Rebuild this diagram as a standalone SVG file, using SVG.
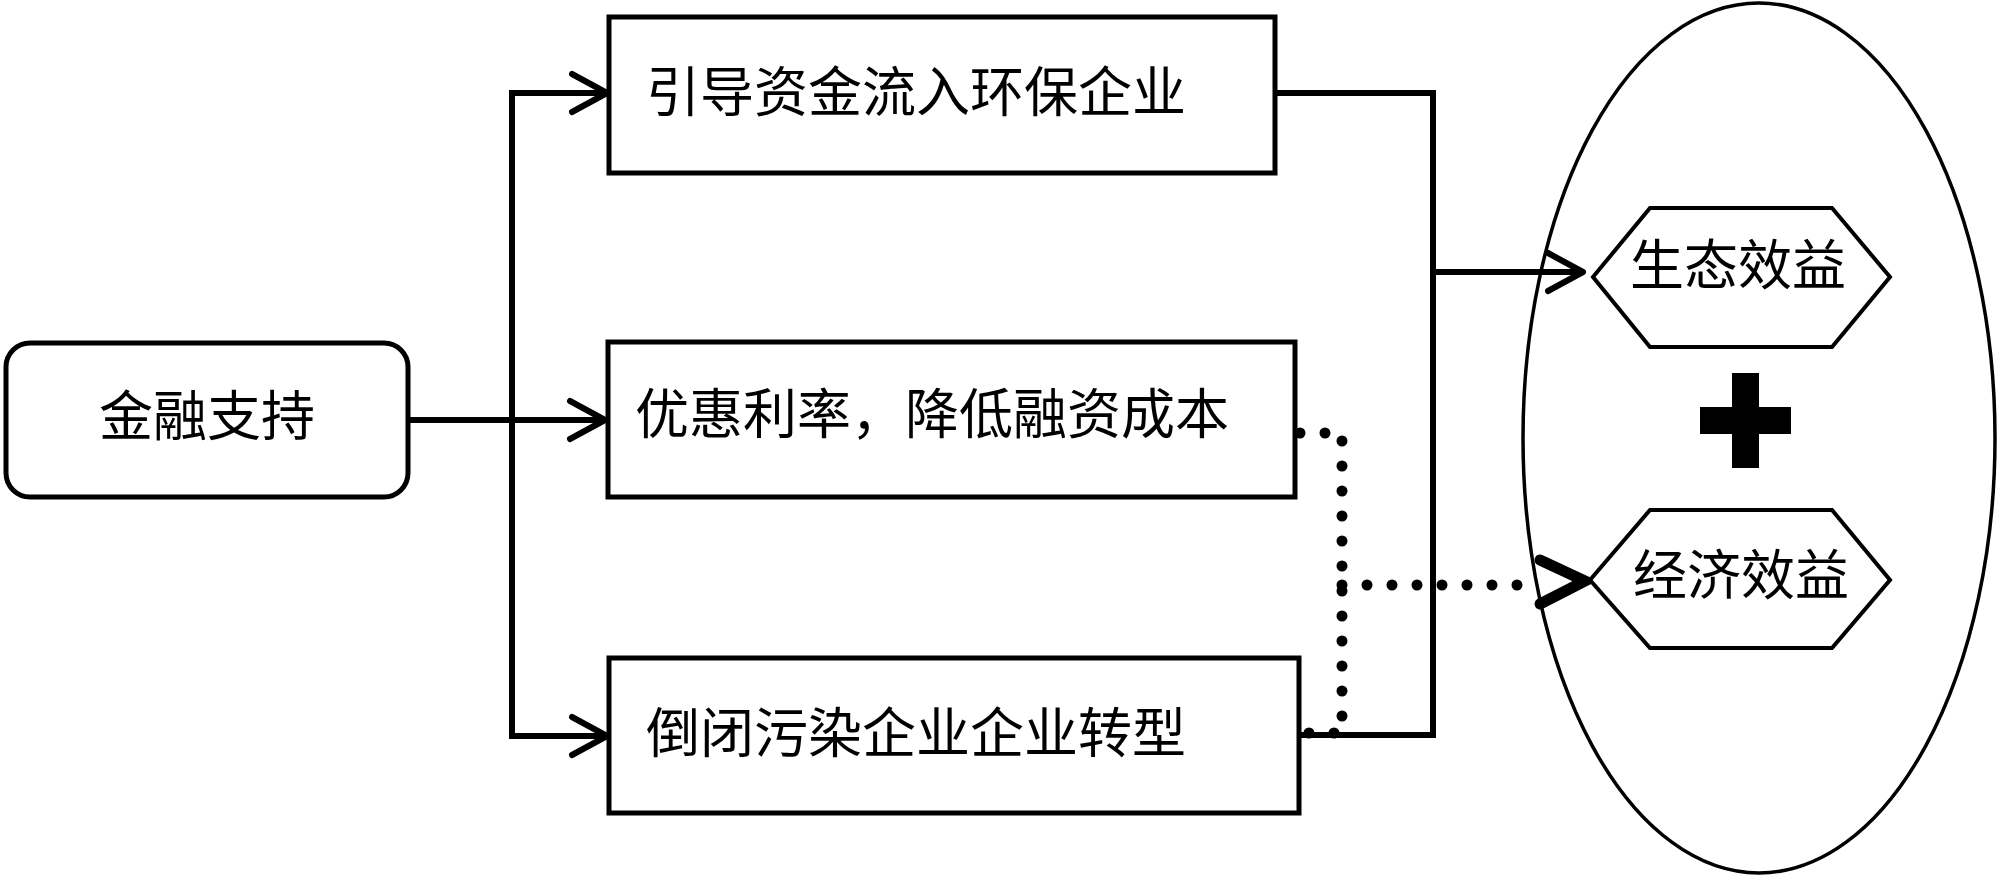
<svg xmlns="http://www.w3.org/2000/svg" width="2000" height="880" viewBox="0 0 2000 880">
<style>
.box{fill:#fff;stroke:#000;stroke-width:5}
.hex{fill:#fff;stroke:#000;stroke-width:4;stroke-linejoin:miter}
.lbl{font-family:"Noto Sans CJK SC","Noto Sans",sans-serif;font-size:54px;fill:#000;text-anchor:middle}
.ln{fill:none;stroke:#000;stroke-width:6}
.dot{fill:none;stroke:#000;stroke-width:11;stroke-linecap:round;stroke-dasharray:0 25}
</style>
<defs>
<marker id="chev" markerUnits="userSpaceOnUse" viewBox="-40 -25 44 50" refX="0" refY="0" markerWidth="44" markerHeight="50" orient="auto" overflow="visible">
<polyline points="-35,-19 0,0 -35,19" fill="none" stroke="#000" stroke-width="6" stroke-linejoin="round" stroke-linecap="round"/>
</marker>
</defs>
<rect width="2000" height="880" fill="#fff"/>
<g id="ellipse-group">
<ellipse cx="1759" cy="438" rx="236" ry="435" fill="none" stroke="#000" stroke-width="3.5"/>
</g>
<g id="connectors">
<path class="ln" d="M408,420 H512" stroke-width="7"/>
<path class="ln" d="M512,93 V736"/>
<path class="ln" d="M509,93 H607" marker-end="url(#chev)"/>
<path class="ln" d="M512,420 H605" marker-end="url(#chev)"/>
<path class="ln" d="M509,736 H607" marker-end="url(#chev)"/>
<path class="ln" d="M1275,93 H1433 V735 H1299" stroke-linejoin="miter"/>
<path class="ln" d="M1433,272 H1583" marker-end="url(#chev)"/>
<path class="dot" d="M1300,433 H1342 V733 H1305"/>
<path class="dot" d="M1342,585 H1540"/>
<polyline points="1540,560 1585,581 1540,604" fill="none" stroke="#000" stroke-width="11" stroke-linejoin="miter" stroke-linecap="round"/>
</g>
<g id="n-support">
<rect class="box" x="6" y="343" width="402" height="154" rx="24"/>
<text class="lbl" x="207" y="436">金融支持</text>
</g>
<g id="n-guide">
<rect class="box" x="609" y="17" width="666" height="156"/>
<text class="lbl" x="916" y="112">引导资金流入环保企业</text>
</g>
<g id="n-rate">
<rect class="box" x="608" y="342" width="687" height="155"/>
<text class="lbl" x="932" y="434">优惠利率，降低融资成本</text>
</g>
<g id="n-close">
<rect class="box" x="609" y="658" width="690" height="155"/>
<text class="lbl" x="916" y="753">倒闭污染企业企业转型</text>
</g>
<g id="n-eco">
<polygon class="hex" points="1593,277 1650,208 1832,208 1890,277 1832,347 1650,347"/>
<text class="lbl" x="1738" y="285">生态效益</text>
</g>
<g id="n-plus">
<rect x="1732" y="373" width="27" height="95" fill="#000"/>
<rect x="1700" y="407" width="91" height="27" fill="#000"/>
</g>
<g id="n-econ">
<polygon class="hex" points="1590,580 1650,510 1832,510 1890,580 1832,648 1650,648"/>
<text class="lbl" x="1741" y="595">经济效益</text>
</g>
</svg>
